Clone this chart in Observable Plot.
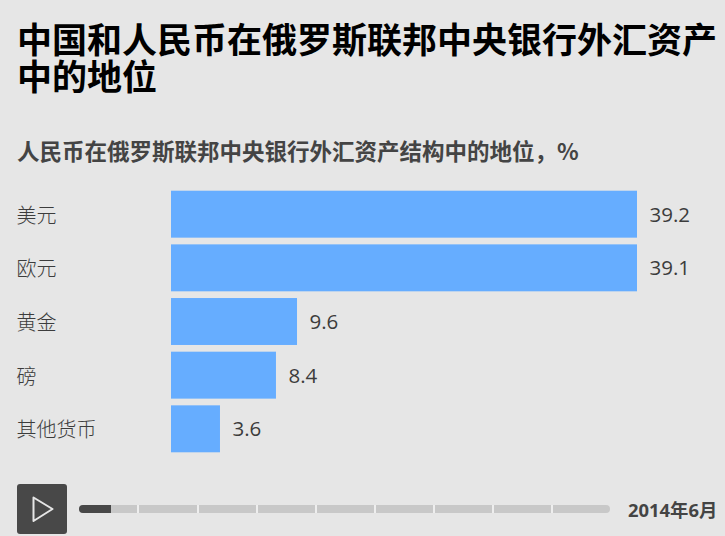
<!DOCTYPE html>
<html><head><meta charset="utf-8">
<script src="https://cdn.jsdelivr.net/npm/d3@7"></script>
<script src="https://cdn.jsdelivr.net/npm/@observablehq/plot@0.6"></script>
<style>
html,body{margin:0;padding:0;background:#e6e6e6;width:725px;height:536px;overflow:hidden;position:relative;font-family:"Noto Sans CJK SC",sans-serif}
h1{position:absolute;left:17px;top:19px;width:708px;margin:0;font-size:35px;line-height:37px;font-weight:700;color:#000;letter-spacing:0}
h2{position:absolute;left:17px;top:134px;margin:0;font-size:22.5px;line-height:32px;font-weight:700;color:#444}
#chart{position:absolute;left:0;top:183.8px}
#chart svg{background:transparent;display:block}
#btn{position:absolute;left:17px;top:484px;width:50px;height:50px;background:#484848;border-radius:3px}
#track{position:absolute;left:79px;top:505px;width:531px;height:8px;background:#c8c8c8;border-radius:4px;overflow:hidden}
#fill{position:absolute;left:0;top:0;width:32px;height:8px;background:#484848}
.sep{position:absolute;top:0;width:2px;height:8px;background:#eee}
#date{position:absolute;left:628px;top:497px;font-family:"Open Sans","Noto Sans CJK SC",sans-serif;font-size:18.4px;line-height:26px;font-weight:700;color:#444;white-space:nowrap}
</style></head><body>
<h1>中国和人民币在俄罗斯联邦中央银行外汇资产中的地位</h1>
<h2>人民币在俄罗斯联邦中央银行外汇资产结构中的地位，%</h2>
<div id="chart"></div>
<div id="btn"><svg width="50" height="50"><path d="M16.500 13.500 L35.500 25 L16.500 37 Z" fill="none" stroke="#e6e6e6" stroke-width="2" stroke-linejoin="round"/></svg></div>
<div id="track"><div id="fill"></div></div>
<div id="date">2014年6月</div>
<script>
const categories = ["美元","欧元","黄金","磅","其他货币"];
// printed figures
const labels = [39.2,39.1,9.6,8.4,3.6];
// bar lengths as drawn in the picture, on the same axis
const drawn = [39.2,39.2,10.6,8.83,4.12];
const sepPositions = [58,117.5,176.5,235.5,294.5,353.5,412.5,471.5];

const rows = categories.map((c,i)=>({c,label:labels[i],v:drawn[i]}));
const fmt = d3.format(".1f");
const plot = Plot.plot({
  width:725,height:275,marginLeft:171,marginRight:88,marginTop:0,marginBottom:0,
  x:{domain:[0,39.2],axis:null},
  y:{domain:categories,padding:0.125,align:0.5,round:false,label:null,axis:null},
  style:{background:"transparent"},
  marks:[
    Plot.barX(rows,{x:"v",y:"c",fill:"#66adff"}),
    Plot.text(rows,{x:"v",y:"c",text:d=>fmt(d.label),textAnchor:"start",dx:12,dy:0.5,fontSize:20.5,fill:"#3c3c3c",fontFamily:"'Open Sans',sans-serif"}),
    Plot.text(rows,{x:()=>0,y:"c",text:"c",textAnchor:"start",dx:-155,dy:1.5,fontSize:20,fill:"#3c3c3c",fontWeight:300,fontFamily:"'Noto Sans CJK SC',sans-serif"})
  ]
});
document.getElementById("chart").append(plot);
const track=document.getElementById("track");
sepPositions.forEach(p=>{const s=document.createElement("div");s.className="sep";s.style.left=p+"px";track.append(s);});
</script>
</body></html>
